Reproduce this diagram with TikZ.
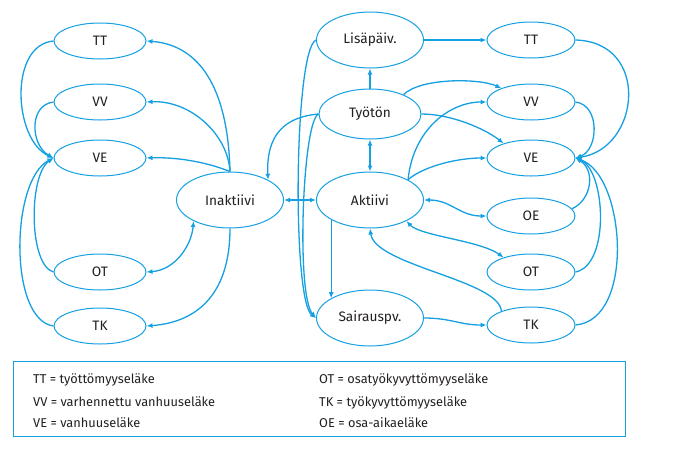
\documentclass[tikz,border=0pt]{standalone}
\usepackage{fontspec}
\setmainfont{Fira Sans}
\usetikzlibrary{shapes.geometric,arrows.meta}
\definecolor{lc}{RGB}{20,160,225}
\definecolor{tc}{RGB}{35,31,32}
\begin{document}
\begin{tikzpicture}[x=1pt,y=1pt,
  ell/.style={ellipse, draw=lc, line width=1pt, inner sep=0pt, text=tc, font=\fontsize{13.7}{15}\selectfont},
  sm/.style={ell, minimum width=92pt, minimum height=36pt},
  smr/.style={ell, minimum width=88pt, minimum height=36pt},
  big/.style={ell, minimum width=107pt, minimum height=56pt},
  mid/.style={ell, minimum width=102pt, minimum height=50pt},
  con/.style={draw=lc, line width=1.3pt, -{Latex[length=6pt,width=5pt]}},
  bcon/.style={draw=lc, line width=1.3pt, {Latex[length=6pt,width=5pt]}-{Latex[length=6pt,width=5pt]}},
  leg/.style={anchor=base west, text=tc, font=\fontsize{12.8}{14}\selectfont, inner sep=0pt}
]
\useasboundingbox (0,0) rectangle (678,-456);
% left column
\node[sm] (lTT) at (100,-41) {TT};
\node[sm] (lVV) at (100,-102) {VV};
\node[sm] (lVE) at (100,-158) {VE};
\node[sm] (lOT) at (100,-272) {OT};
\node[sm] (lTK) at (100,-326) {TK};
% centre
\node[big] (ina) at (230,-200) {Inaktiivi};
\node[big] (akt) at (370,-200) {Aktiivi};
\node[mid] (tyo) at (370,-114) {Työtön};
\node[big] (lis) at (370,-40) {Lisäpäiv.};
\node[big] (sai) at (370,-318) {Sairauspv.};
% right column
\node[smr] (rTT) at (531,-40) {TT};
\node[smr] (rVV) at (531,-102) {VV};
\node[smr] (rVE) at (531,-158) {VE};
\node[smr] (rOE) at (531,-216) {OE};
\node[smr] (rOT) at (531,-272) {OT};
\node[smr] (rTK) at (531,-325) {TK};
% left edges
\draw[con] (ina.north) .. controls +(-2,82) and +(54,-4) .. (lTT.east);
\draw[con] (ina.north) .. controls +(-2,37) and +(44,2) .. (lVV.east);
\draw[con] (ina.north) .. controls +(-25,10) and +(29,1) .. (lVE.east);
\draw[con] (ina.south) .. controls +(0,-62) and +(54,4) .. (lTK.east);
\draw[bcon] (lOT.east) .. controls +(29,2) and +(-2,-24) .. (ina.210);
\draw[con] (lTT.west) .. controls +(-45,-4) and +(-40,18) .. (lVE.west);
\draw[con] (lVV.west) .. controls +(-25,-3) and +(-23,13) .. (lVE.west);
\draw[con] (lOT.west) .. controls +(-25,7) and +(-25,-17) .. (lVE.west);
\draw[con] (lTK.west) .. controls +(-45,6) and +(-43,-22) .. (lVE.west);
% centre edges
\draw[bcon] (ina.east) -- (akt.west);
\draw[con] (tyo.west) .. controls +(-34,-3) and +(-2,45) .. (ina.28);
\draw[con] (tyo.north) -- (lis.south);
\draw[bcon] (tyo.south) -- (akt.north);
\draw[con] (lis.west) .. controls +(-22,-10) and +(-24,18) .. (sai.west);
\draw[con] (tyo.west) .. controls +(-16,-7) and +(-20,23) .. (sai.west);
\draw[con] (akt.207) -- (sai.153);
\draw[con] (lis.east) -- (rTT.west);
\draw[con] (tyo.30) .. controls +(17,17) and +(-22,10) .. (rVV.155);
\draw[con] (tyo.east) .. controls +(29,0) and +(-19,15) .. (rVE.152);
\draw[con] (akt.28) .. controls +(5,50) and +(-37,0) .. (rVV.west);
\draw[con] (akt.28) .. controls +(13,12) and +(-32,0) .. (rVE.west);
\draw[bcon] (akt.east) .. controls +(27,0) and +(-27,0) .. (rOE.west);
\draw[bcon] (akt.-30) .. controls +(14,-15) and +(-24,17) .. (rOT.152);
\draw[con] (rTK.155) .. controls +(-2,31) and +(5,-37) .. (akt.south);
\draw[con] (sai.east) .. controls +(27,0) and +(-27,0) .. (rTK.west);
% right edges
\draw[con] (rTT.east) .. controls +(75,-2) and +(65,10) .. (rVE.east);
\draw[con] (rVV.east) .. controls +(25,-3) and +(23,8) .. (rVE.east);
\draw[con] (rOE.10) .. controls +(20,9) and +(20,-12) .. (rVE.east);
\draw[con] (rOT.east) .. controls +(35,7) and +(30,-12) .. (rVE.east);
\draw[con] (rTK.east) .. controls +(60,5) and +(50,-17) .. (rVE.east);
% legend
\node[draw=lc, line width=1pt, inner sep=0pt, anchor=north west, minimum width=612pt, minimum height=75pt] (legend) at (13,-361) {};
\node[leg] (l1) at (33,-383) {TT = työttömyyseläke};
\node[leg] (l2) at (33,-406) {VV = varhennettu vanhuuseläke};
\node[leg] (l3) at (33,-427.5) {VE = vanhuuseläke};
\node[leg] (l4) at (319,-383) {OT = osatyökyvyttömyyseläke};
\node[leg] (l5) at (319,-406) {TK = työkyvyttömyyseläke};
\node[leg] (l6) at (319,-427.5) {OE = osa-aikaeläke};
\end{tikzpicture}
\end{document}
